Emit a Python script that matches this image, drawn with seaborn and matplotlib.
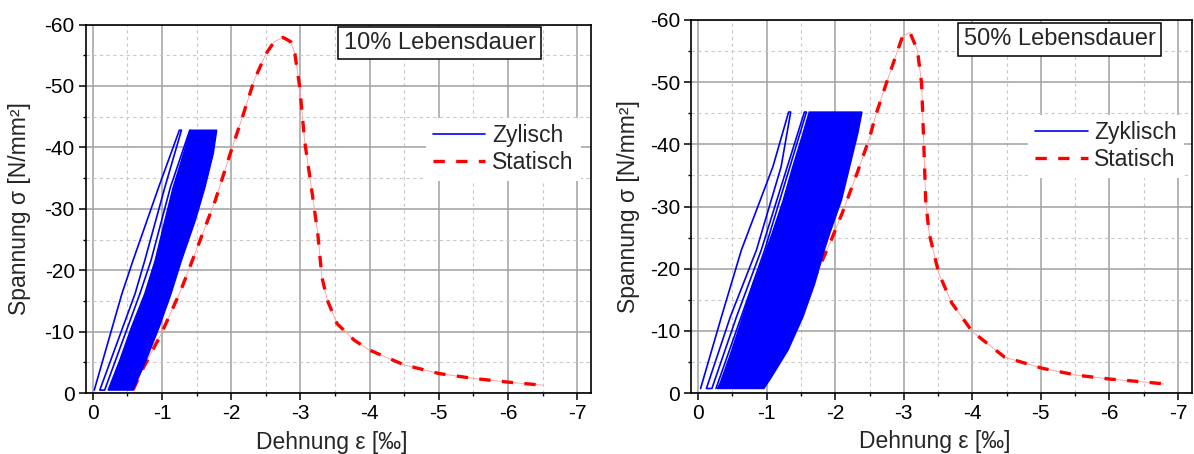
import matplotlib
matplotlib.use("Agg")
import matplotlib.pyplot as plt
from matplotlib.lines import Line2D
from matplotlib.ticker import MultipleLocator
import seaborn as sns

# Daten, Dehnung in Promille, Spannung in N/mm²
# 10% Lebensdauer - statischer Versuch
stat10_eps = [-0.58, -0.71, -0.99, -1.27, -1.55, -1.77, -2.0, -2.16, -2.33, -2.50, -2.62, -2.75,
              -2.86, -2.92, -2.99, -3.06, -3.17, -3.25, -3.31, -3.39, -3.53, -3.78, -4.0, -4.5,
              -5.0, -5.5, -6.0, -6.5]
stat10_sig = [-0.5, -3.7, -9.7, -16.7, -24.9, -31.4, -39.5, -44.9, -50.9, -55.2, -57.2, -57.9,
              -57.2, -55.2, -49.8, -41.1, -32.5, -26.0, -18.9, -15.1, -11.3, -8.6, -7.0, -4.6,
              -3.2, -2.4, -1.8, -1.3]
# 10% - erste Zyklen (einzelne Linien)
zyk10_eps = [-0.02, -0.42, -0.58, -0.95, -1.25, -1.28, -1.04, -0.75, -0.61, -0.10,
             -0.17, -0.68, -0.84, -1.12, -1.40]
zyk10_sig = [-0.5, -16.2, -21.6, -33.5, -42.8, -42.8, -33.5, -21.6, -16.2, -0.5,
             -0.5, -16.2, -21.6, -33.5, -42.8]
# 10% - dichtes Band der weiteren Zyklen (linker Rand unten->oben, rechter Rand oben->unten)
band10_eps = [-0.22, -0.39, -0.56, -0.75, -0.90, -1.04, -1.16, -1.31, -1.41,
              -1.79, -1.74, -1.62, -1.48, -1.28, -1.13, -0.96, -0.77, -0.58]
band10_sig = [-0.5, -5.4, -10.8, -16.2, -21.6, -28.1, -33.5, -39.0, -42.8,
              -42.8, -39.0, -33.5, -28.1, -21.6, -16.2, -10.8, -5.4, -0.5]

# 50% Lebensdauer - statischer Versuch
stat50_eps = [-1.45, -1.50, -1.60, -1.77, -1.94, -2.10, -2.32, -2.49, -2.60, -2.76, -2.98, -3.09,
              -3.20, -3.26, -3.29, -3.32, -3.37, -3.51, -3.70, -4.0, -4.47, -5.02, -5.52, -6.02,
              -6.51, -6.79]
stat50_sig = [-11.0, -12.8, -16.1, -20.3, -24.6, -28.9, -35.4, -40.7, -45.0, -50.3, -57.3, -58.0,
              -55.1, -49.8, -40.7, -31.0, -25.7, -19.3, -14.5, -9.9, -5.8, -4.0, -2.9, -2.25,
              -1.8, -1.5]
zyk50_eps = [-0.035, -0.34, -0.63, -1.09, -1.32, -1.35, -1.21, -0.85, -0.47, -0.12,
             -0.20, -0.56, -0.92, -1.30, -1.55, -1.58, -0.97, -0.26]
zyk50_sig = [-0.75, -12.3, -23.0, -36.4, -45.2, -45.2, -36.4, -23.0, -12.3, -0.75,
             -0.75, -12.3, -23.0, -36.4, -45.2, -45.2, -23.0, -0.75]
band50_eps = [-0.28, -0.32, -0.49, -0.65, -0.80, -0.99, -1.08, -1.24, -1.38, -1.53, -1.62,
              -2.39, -2.33, -2.21, -2.09, -1.92, -1.84, -1.70, -1.53, -1.31, -1.07, -0.96]
band50_sig = [-0.75, -1.6, -6.9, -12.3, -17.6, -23.0, -25.7, -31.0, -36.4, -41.8, -45.2,
              -45.2, -41.8, -36.4, -31.0, -25.7, -23.0, -17.6, -12.3, -6.9, -2.6, -0.75]

titles = ["10% Lebensdauer", "50% Lebensdauer"]
zyk_labels = ["Zylisch", "Zyklisch"]

sns.set_style("white")
plt.rcParams['font.family'] = ['Liberation Sans', 'DejaVu Sans']
plt.rcParams['axes.unicode_minus'] = False

fig = plt.figure(figsize=(11.94, 4.54), dpi=100)
ax1 = fig.add_axes([0.072, 0.134, 0.423, 0.812])
ax2 = fig.add_axes([0.579, 0.134, 0.419, 0.822])

panels = [
    (ax1, stat10_eps, stat10_sig, zyk10_eps, zyk10_sig, band10_eps, band10_sig),
    (ax2, stat50_eps, stat50_sig, zyk50_eps, zyk50_sig, band50_eps, band50_sig),
]
red_ls = (0, (3.4, 3.4))

for i, (ax, se, ss, ze, zs, be, bs) in enumerate(panels):
    # grid
    ax.set_axisbelow(True)
    ax.xaxis.set_major_locator(MultipleLocator(1))
    ax.xaxis.set_minor_locator(MultipleLocator(0.5))
    ax.yaxis.set_major_locator(MultipleLocator(10))
    ax.yaxis.set_minor_locator(MultipleLocator(5))
    ax.grid(which='major', color='#a0a0a0', lw=1.1, ls='-')
    ax.grid(which='minor', color='#c8c8c8', lw=0.8, ls=(0, (3, 3)))

    # statische Kurve: kraeftige Striche + duenne blasse Verbindung
    sns.lineplot(x=se, y=ss, sort=False, estimator=None, ax=ax, color='#ff9a9a',
                 lw=0.6, zorder=3)
    sns.lineplot(x=se, y=ss, sort=False, estimator=None, ax=ax, color='#ff0000',
                 lw=2.4, linestyle=red_ls, zorder=3)
    ax.fill(be, bs, color='#0000ff', lw=1.0, ec='#0000ff', zorder=4)
    sns.lineplot(x=ze, y=zs, sort=False, estimator=None, ax=ax, color='#0000ff',
                 lw=1.2, zorder=5)

    ax.set_xlim(0.1, -7.2)
    ax.set_ylim(0, -60)

    for sp in ax.spines.values():
        sp.set_visible(True)
        sp.set_color('black')
        sp.set_linewidth(1.2)
    ax.tick_params(which='both', direction='out', top=False, right=False,
                   bottom=True, left=True, colors='black')
    ax.tick_params(which='major', length=5, width=1.1, labelsize=15, pad=3)
    ax.tick_params(which='minor', length=2.5, width=1.0)

    ax.set_xlabel("Dehnung ε [‰]", fontsize=16.5)
    ax.set_ylabel("Spannung σ [N/mm²]", fontsize=16.5)

    handles = [Line2D([], [], color='#0000ff', lw=1.2),
               Line2D([], [], color='#ff0000', lw=2.4, linestyle=red_ls)]
    leg = ax.legend(handles, [zyk_labels[i], "Statisch"], loc='center left',
                    bbox_to_anchor=(0.673, 0.662), frameon=True, fancybox=False,
                    framealpha=1, facecolor='white', edgecolor='none', fontsize=16.5,
                    handlelength=2.3, handletextpad=0.3, labelspacing=0.15,
                    borderpad=0.3, borderaxespad=0)
    leg.set_zorder(6)

ax1.xaxis.set_label_coords(0.487, -0.103)
ax2.xaxis.set_label_coords(0.487, -0.099)
ax1.yaxis.set_label_coords(-0.109, 0.5)
ax2.yaxis.set_label_coords(-0.103, 0.5)

ax1.text(0.70, 0.95, titles[0], transform=ax1.transAxes, ha='center', va='center',
         fontsize=17, zorder=7,
         bbox=dict(boxstyle='square,pad=0.22', fc='white', ec='black', lw=1.1))
ax2.text(0.736, 0.948, titles[1], transform=ax2.transAxes, ha='center', va='center',
         fontsize=17, zorder=7,
         bbox=dict(boxstyle='square,pad=0.22', fc='white', ec='black', lw=1.1))

fig.savefig("out.png", dpi=100)
